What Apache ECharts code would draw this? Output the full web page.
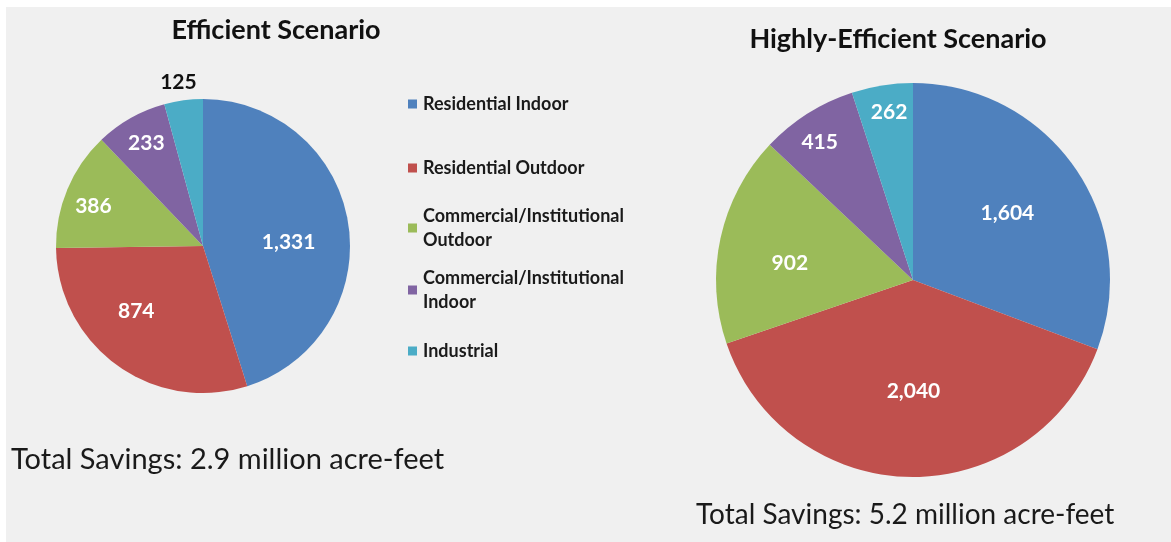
<!DOCTYPE html>
<html>
<head>
<meta charset="utf-8">
<script src="https://cdn.jsdelivr.net/npm/echarts@6/dist/echarts.min.js"></script>
<style>
  html, body { margin: 0; padding: 0; background: #ffffff; }
  #chart { width: 1171px; height: 542px; }
</style>
</head>
<body>
<div id="chart"></div>
<script>
const categories = [
  "Residential Indoor",
  "Residential Outdoor",
  "Commercial/Institutional Outdoor",
  "Commercial/Institutional Indoor",
  "Industrial"
]
const efficientValues = [1331, 874, 386, 233, 125]
const highlyEfficientValues = [1604, 2040, 902, 415, 262]
const titles = ["Efficient Scenario", "Highly-Efficient Scenario"]
const totals = ["Total Savings: 2.9 million acre-feet", "Total Savings: 5.2 million acre-feet"]

const colors = ["#4f81bd", "#c0504d", "#9bbb59", "#8064a2", "#4bacc6"]
const font = "Lato, 'Open Sans', sans-serif"

// legend: one component per item so the odd spacing of the original can be kept
const legendTops = [92, 156, 192, 254, 339]
const legendLines = [
  "Residential Indoor",
  "Residential Outdoor",
  "Commercial/Institutional\nOutdoor",
  "Commercial/Institutional\nIndoor",
  "Industrial"
]

// nudges so labels sit where Excel's "best fit" put them
const leftLabelShift = [[10, 8], [-22, 3], [-39, -10], [-19, -36], [19, -12]]
const rightLabelShift = [[11, -9], [2, 10], [-24, 5], [-39, -52], [-8, -68]]

function fmt(v) {
  return v.toLocaleString("en-US")
}

function pieData(values, outsideIdx) {
  return values.map(function (v, i) {
    const item = { value: v, name: categories[i] }
    if (i === outsideIdx) {
      item.label = { position: "outside", color: "#111" }
      item.labelLine = { show: false, length: 6, length2: 0 }
    }
    return item
  })
}

const legends = categories.map(function (name, i) {
  const twoLines = legendLines[i].indexOf("\n") > -1
  return {
    data: [name],
    left: 408,
    top: legendTops[i],
    padding: 0,
    orient: "vertical",
    itemWidth: 9,
    itemHeight: 9,
    icon: "rect",
    selectedMode: false,
    formatter: function () { return legendLines[i] },
    textStyle: {
      fontFamily: font,
      fontWeight: "bold",
      fontSize: 18,
      color: "#1a1a1a",
      lineHeight: 24,
      padding: twoLines ? [24, 0, 0, 1] : [0, 0, 0, 1]
    }
  }
})

const pieLabel = {
  position: "inside",
  color: "#ffffff",
  fontFamily: font,
  fontWeight: "bold",
  fontSize: 21,
  formatter: function (p) { return fmt(p.value) }
}

const option = {
  animation: false,
  color: colors,
  graphic: [
    {
      type: "rect",
      z: -10,
      shape: { x: 6, y: 7, width: 1165, height: 535 },
      style: { fill: "#f0f0f0" }
    }
  ],
  title: [
    {
      text: titles[0], left: 276, top: 17, padding: 0, textAlign: "center",
      textStyle: { fontFamily: font, fontWeight: "bold", fontSize: 27, color: "#111" }
    },
    {
      text: titles[1], left: 898, top: 26, padding: 0, textAlign: "center",
      textStyle: { fontFamily: font, fontWeight: "bold", fontSize: 27, color: "#111" }
    },
    {
      text: totals[0], left: 11, top: 445, padding: 0,
      textStyle: { fontFamily: font, fontWeight: "normal", fontSize: 29, color: "#1a1a1a" }
    },
    {
      text: totals[1], left: 696, top: 501, padding: 0,
      textStyle: { fontFamily: font, fontWeight: "normal", fontSize: 28, color: "#1a1a1a" }
    }
  ],
  legend: legends,
  series: [
    {
      type: "pie",
      name: titles[0],
      center: [203, 246],
      radius: 147,
      startAngle: 90,
      clockwise: true,
      silent: true,
      label: pieLabel,
      labelLayout: function (p) {
        return { dx: leftLabelShift[p.dataIndex][0], dy: leftLabelShift[p.dataIndex][1] }
      },
      data: pieData(efficientValues, 4)
    },
    {
      type: "pie",
      name: titles[1],
      center: [913, 280],
      radius: 197,
      startAngle: 90,
      clockwise: true,
      silent: true,
      label: pieLabel,
      labelLayout: function (p) {
        return { dx: rightLabelShift[p.dataIndex][0], dy: rightLabelShift[p.dataIndex][1] }
      },
      data: pieData(highlyEfficientValues, -1)
    }
  ]
}

const chart = echarts.init(document.getElementById("chart"))
chart.setOption(option)
window.onresize = function () {
  chart.resize()
}
</script>
</body>
</html>
